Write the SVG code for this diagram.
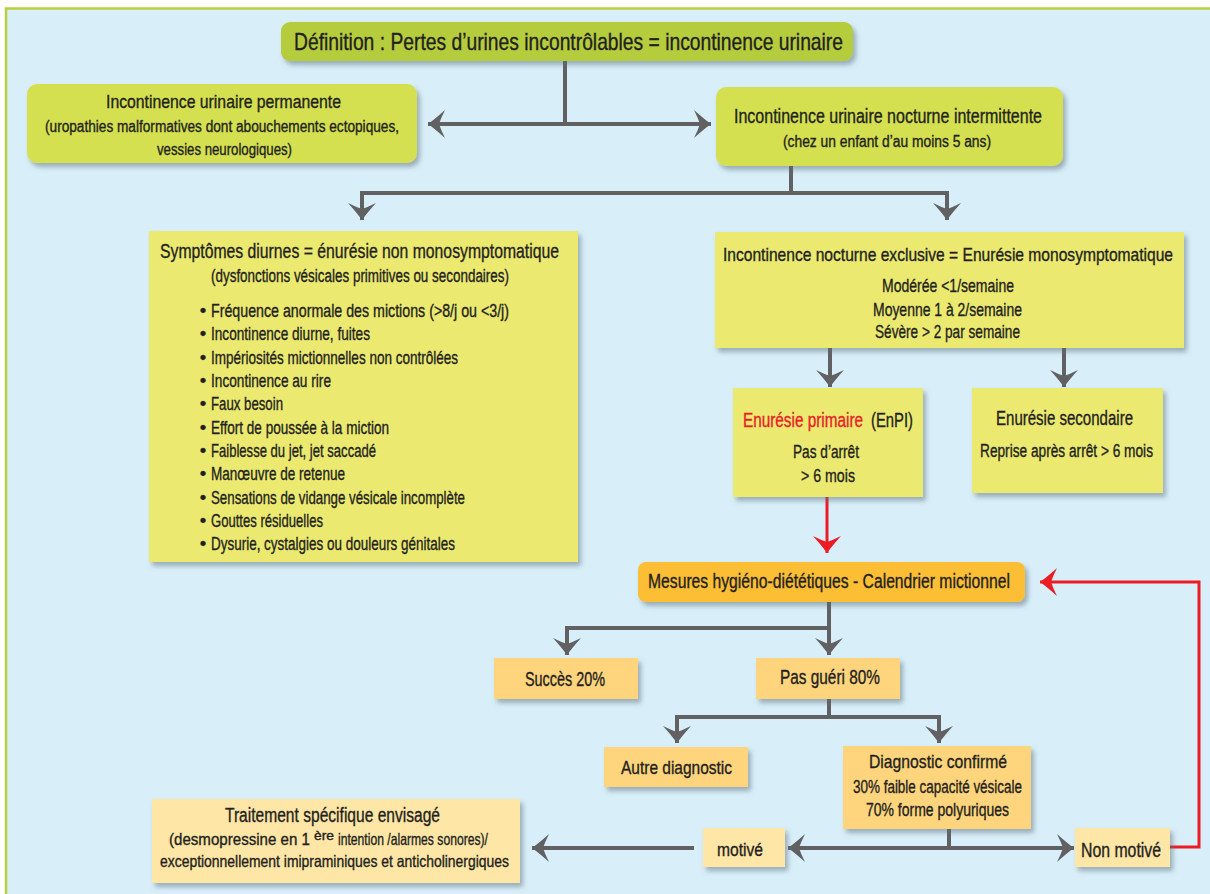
<svg xmlns="http://www.w3.org/2000/svg" width="1210" height="894" viewBox="0 0 1210 894">
<defs>
<style>
text{font-family:"Liberation Sans","Arial",sans-serif;fill:#231f20;stroke:#231f20;stroke-width:0.35;text-anchor:middle}
.st{text-anchor:start}
.g{fill:#d4e04f}
.y{fill:#ebe96f}
.o{fill:#fbbe34}
.p{fill:#fed47c}
.q{fill:#fee6a6}
.ln{fill:none;stroke:#616163;stroke-width:4}
.rd{fill:none;stroke:#ec1c24;stroke-width:3}
</style>
<filter id="sh" x="-10%" y="-10%" width="125%" height="140%">
<feDropShadow dx="3" dy="4" stdDeviation="2.5" flood-color="#5a6a74" flood-opacity="0.5"/>
</filter>
<marker id="ah" viewBox="-19 -15 21 30" markerWidth="21" markerHeight="30" refX="0" refY="0" orient="auto" markerUnits="userSpaceOnUse">
<path d="M0,0 Q-7,-5 -17,-14 Q-13,-6 -11,0 Q-13,6 -17,14 Q-7,5 0,0 Z" fill="#616163"/>
</marker>
<marker id="ar" viewBox="-19 -15 21 30" markerWidth="21" markerHeight="30" refX="0" refY="0" orient="auto" markerUnits="userSpaceOnUse">
<path d="M0,0 Q-7,-5 -17,-14 Q-13,-6 -11,0 Q-13,6 -17,14 Q-7,5 0,0 Z" fill="#ec1c24"/>
</marker>
</defs>
<rect width="1210" height="894" fill="#ffffff"/>
<rect x="6" y="8.5" width="1210" height="890" fill="#d8eff9" stroke="#b8cf3f" stroke-width="2.5"/>

<g id="connectors">
<path class="ln" d="M565,61 V124"/>
<path class="ln" d="M565,124 H428" marker-end="url(#ah)"/>
<path class="ln" d="M565,124 H711" marker-end="url(#ah)"/>
<path class="ln" d="M791,166 V193 H362 V220" marker-end="url(#ah)"/>
<path class="ln" d="M791,193 H947 V220" marker-end="url(#ah)"/>
<path class="ln" d="M830,348 V387" marker-end="url(#ah)"/>
<path class="ln" d="M1064,348 V387" marker-end="url(#ah)"/>
<path class="rd" d="M827,497 V553" marker-end="url(#ar)"/>
<path class="ln" d="M829,602 V628 H567 V655" marker-end="url(#ah)"/>
<path class="ln" d="M829,628 V655" marker-end="url(#ah)"/>
<path class="ln" d="M829,699 V717 H677 V743" marker-end="url(#ah)"/>
<path class="ln" d="M829,717 H939 V743" marker-end="url(#ah)"/>
<path class="ln" d="M949,829 V848"/>
<path class="ln" d="M949,848 H788" marker-end="url(#ah)"/>
<path class="ln" d="M949,848 H1074" marker-end="url(#ah)"/>
<path class="ln" d="M694,848 H532" marker-end="url(#ah)"/>
<path class="rd" d="M1170,847 H1199 V582 H1040" marker-end="url(#ar)"/>
</g>

<g id="definition">
<rect x="281" y="22" width="572" height="39" rx="9" fill="#b5cc3c" filter="url(#sh)"/>
<text x="568.5" y="50" font-size="24" textLength="549" lengthAdjust="spacingAndGlyphs">Définition : Pertes d’urines incontrôlables =  incontinence urinaire</text>
</g>

<g id="permanente">
<rect class="g" x="27" y="84" width="390" height="79" rx="10" filter="url(#sh)"/>
<text x="223.5" y="108" font-size="18.5" textLength="235" lengthAdjust="spacingAndGlyphs">Incontinence urinaire permanente</text>
<text x="222" y="132" font-size="16" textLength="354" lengthAdjust="spacingAndGlyphs">(uropathies malformatives dont abouchements ectopiques,</text>
<text x="224.5" y="155" font-size="16" textLength="135" lengthAdjust="spacingAndGlyphs">vessies neurologiques)</text>
</g>

<g id="intermittente">
<rect class="g" x="716" y="87" width="347" height="79" rx="10" filter="url(#sh)"/>
<text x="888" y="123" font-size="19.5" textLength="308" lengthAdjust="spacingAndGlyphs">Incontinence urinaire nocturne intermittente</text>
<text x="887" y="147" font-size="16" textLength="208" lengthAdjust="spacingAndGlyphs">(chez un enfant d’au moins 5 ans)</text>
</g>

<g id="diurnes">
<rect class="y" x="149" y="231" width="429" height="331" filter="url(#sh)"/>
<text x="359.5" y="258" font-size="21" textLength="399" lengthAdjust="spacingAndGlyphs">Symptômes diurnes = énurésie non monosymptomatique</text>
<text x="360" y="282" font-size="18" textLength="298" lengthAdjust="spacingAndGlyphs">(dysfonctions vésicales primitives ou secondaires)</text>
<g font-size="18.5">
<text x="203" y="317">•</text><text class="st" x="211" y="317" textLength="298" lengthAdjust="spacingAndGlyphs">Fréquence anormale des mictions (&gt;8/j ou &lt;3/j)</text>
<text x="203" y="340">•</text><text class="st" x="211" y="340" textLength="159" lengthAdjust="spacingAndGlyphs">Incontinence diurne, fuites</text>
<text x="203" y="364">•</text><text class="st" x="211" y="364" textLength="247" lengthAdjust="spacingAndGlyphs">Impériosités mictionnelles non contrôlées</text>
<text x="203" y="387">•</text><text class="st" x="211" y="387" textLength="120" lengthAdjust="spacingAndGlyphs">Incontinence au rire</text>
<text x="203" y="410">•</text><text class="st" x="211" y="410" textLength="72" lengthAdjust="spacingAndGlyphs">Faux besoin</text>
<text x="203" y="434">•</text><text class="st" x="211" y="434" textLength="178" lengthAdjust="spacingAndGlyphs">Effort de poussée à la miction</text>
<text x="203" y="457">•</text><text class="st" x="211" y="457" textLength="165" lengthAdjust="spacingAndGlyphs">Faiblesse du jet, jet saccadé</text>
<text x="203" y="480">•</text><text class="st" x="211" y="480" textLength="134" lengthAdjust="spacingAndGlyphs">Manœuvre de retenue</text>
<text x="203" y="504">•</text><text class="st" x="211" y="504" textLength="254" lengthAdjust="spacingAndGlyphs">Sensations de vidange vésicale incomplète</text>
<text x="203" y="527">•</text><text class="st" x="211" y="527" textLength="112" lengthAdjust="spacingAndGlyphs">Gouttes résiduelles</text>
<text x="203" y="550">•</text><text class="st" x="211" y="550" textLength="244" lengthAdjust="spacingAndGlyphs">Dysurie, cystalgies ou douleurs génitales</text>
</g>
</g>

<g id="monosymptomatique">
<rect class="y" x="715" y="232" width="469" height="116" filter="url(#sh)"/>
<text x="948" y="261" font-size="19" textLength="450" lengthAdjust="spacingAndGlyphs">Incontinence nocturne exclusive = Enurésie monosymptomatique</text>
<text x="948" y="292" font-size="18.5" textLength="132" lengthAdjust="spacingAndGlyphs">Modérée &lt;1/semaine</text>
<text x="947.5" y="316" font-size="18.5" textLength="149" lengthAdjust="spacingAndGlyphs">Moyenne 1 à 2/semaine</text>
<text x="947.5" y="338" font-size="18.5" textLength="145" lengthAdjust="spacingAndGlyphs">Sévère &gt; 2 par semaine</text>
</g>

<g id="primaire">
<rect class="y" x="733" y="388" width="190" height="109" filter="url(#sh)"/>
<text class="st" y="427" font-size="20.5"><tspan x="743" textLength="120" lengthAdjust="spacingAndGlyphs" style="fill:#e8202a;stroke:#e8202a">Enurésie primaire</tspan><tspan x="871" textLength="42" lengthAdjust="spacingAndGlyphs">(EnPI)</tspan></text>
<text x="826" y="458" font-size="19" textLength="66" lengthAdjust="spacingAndGlyphs">Pas d’arrêt</text>
<text x="828" y="482" font-size="19" textLength="54" lengthAdjust="spacingAndGlyphs">&gt; 6 mois</text>
</g>

<g id="secondaire">
<rect class="y" x="972" y="388" width="191" height="105" filter="url(#sh)"/>
<text x="1064.5" y="425" font-size="21" textLength="137" lengthAdjust="spacingAndGlyphs">Enurésie secondaire</text>
<text x="1066.5" y="457" font-size="18" textLength="173" lengthAdjust="spacingAndGlyphs">Reprise après arrêt &gt; 6 mois</text>
</g>

<g id="mesures">
<rect class="o" x="638" y="562" width="387" height="40" rx="8" filter="url(#sh)"/>
<text x="829" y="588" font-size="20" textLength="362" lengthAdjust="spacingAndGlyphs">Mesures hygiéno-diététiques - Calendrier mictionnel</text>
</g>

<g id="succes">
<rect class="p" x="494" y="658" width="144" height="41" filter="url(#sh)"/>
<text x="565" y="686" font-size="20" textLength="80" lengthAdjust="spacingAndGlyphs">Succès 20%</text>
</g>

<g id="pasgueri">
<rect class="p" x="756" y="658" width="144" height="41" filter="url(#sh)"/>
<text x="830" y="684" font-size="20" textLength="100" lengthAdjust="spacingAndGlyphs">Pas guéri 80%</text>
</g>

<g id="autre">
<rect class="p" x="604" y="747" width="144" height="40" filter="url(#sh)"/>
<text x="676.5" y="774" font-size="19" textLength="111" lengthAdjust="spacingAndGlyphs">Autre diagnostic</text>
</g>

<g id="confirme">
<rect class="p" x="843" y="746" width="188" height="83" filter="url(#sh)"/>
<text x="938" y="768" font-size="19" textLength="138" lengthAdjust="spacingAndGlyphs">Diagnostic confirmé</text>
<text x="937.5" y="793" font-size="17.5" textLength="169" lengthAdjust="spacingAndGlyphs">30% faible capacité vésicale</text>
<text x="937.5" y="816" font-size="17.5" textLength="143" lengthAdjust="spacingAndGlyphs">70% forme polyuriques</text>
</g>

<g id="motive">
<rect class="q" x="703" y="828" width="82" height="39" filter="url(#sh)"/>
<text x="740" y="856" font-size="19" textLength="46" lengthAdjust="spacingAndGlyphs">motivé</text>
</g>

<g id="nonmotive">
<rect class="q" x="1075" y="828" width="95" height="39" filter="url(#sh)"/>
<text x="1121" y="857" font-size="19.5" textLength="80" lengthAdjust="spacingAndGlyphs">Non motivé</text>
</g>

<g id="traitement">
<rect class="q" x="152" y="799" width="368" height="84" filter="url(#sh)"/>
<text x="332.5" y="822" font-size="20" textLength="215" lengthAdjust="spacingAndGlyphs">Traitement spécifique envisagé</text>
<text class="st" y="845" font-size="16.5"><tspan x="169" textLength="141" lengthAdjust="spacingAndGlyphs">(desmopressine en 1</tspan><tspan x="314" dy="-5" font-size="12" textLength="20" lengthAdjust="spacingAndGlyphs">ère</tspan><tspan x="338" dy="5" textLength="150" lengthAdjust="spacingAndGlyphs">intention /alarmes sonores)/</tspan></text>
<text x="334.5" y="867" font-size="16.5" textLength="349" lengthAdjust="spacingAndGlyphs">exceptionnellement imipraminiques et anticholinergiques</text>
</g>
</svg>
